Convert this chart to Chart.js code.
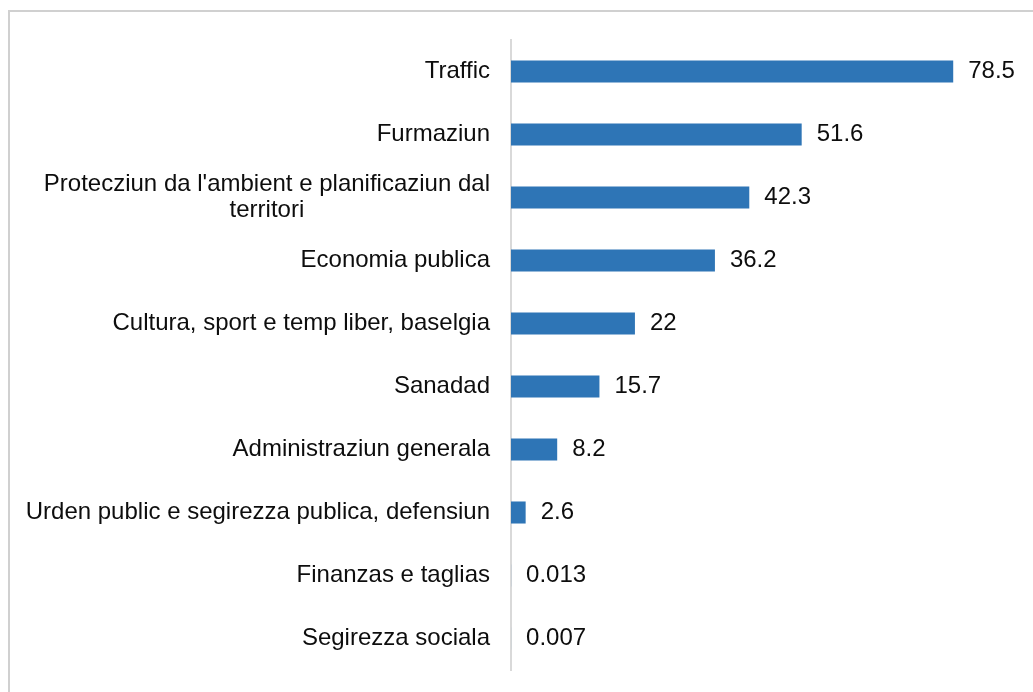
<!DOCTYPE html>
<html>
<head>
<meta charset="utf-8">
<script src="https://cdn.jsdelivr.net/npm/chart.js@4"></script>
<style>
  html, body { margin: 0; padding: 0; background: #fff; }
  #wrap { width: 1033px; height: 692px; }
</style>
</head>
<body>
<div id="wrap"><canvas id="chart" width="1033" height="692"></canvas></div>
<script>
// data
const categories = [
  ["Traffic"],
  ["Furmaziun"],
  ["Protecziun da l'ambient e planificaziun dal", "territori"],
  ["Economia publica"],
  ["Cultura, sport e temp liber, baselgia"],
  ["Sanadad"],
  ["Administraziun generala"],
  ["Urden public e segirezza publica, defensiun"],
  ["Finanzas e taglias"],
  ["Segirezza sociala"]
];
const values = [78.5, 51.6, 42.3, 36.2, 22, 15.7, 8.2, 2.6, 0.013, 0.007];

const FONT = "'Liberation Sans', Arial, sans-serif";

// outer frame
const frame = {
  id: "frame",
  beforeDraw(chart) {
    const ctx = chart.ctx;
    ctx.save();
    ctx.strokeStyle = "#d0d0d0";
    ctx.lineWidth = 2;
    ctx.strokeRect(9, 11, 1100, 1000);
    ctx.restore();
  }
};

// category labels: right aligned block, lines centred inside it
const catLabels = {
  id: "catLabels",
  afterDraw(chart) {
    const ctx = chart.ctx;
    const y = chart.scales.y;
    ctx.save();
    ctx.font = "24px " + FONT;
    ctx.fillStyle = "#0d0d0d";
    ctx.textAlign = "center";
    ctx.textBaseline = "middle";
    categories.forEach((lines, i) => {
      const cy = y.getPixelForTick(i);
      let w = 0;
      lines.forEach(l => { w = Math.max(w, ctx.measureText(l).width); });
      const cx = 490 - w / 2;
      lines.forEach((l, j) => {
        ctx.fillText(l, cx, cy + (j - (lines.length - 1) / 2) * 26);
      });
    });
    ctx.restore();
  }
};

// value labels at bar ends
const valLabels = {
  id: "valLabels",
  afterDatasetsDraw(chart) {
    const ctx = chart.ctx;
    const meta = chart.getDatasetMeta(0);
    ctx.save();
    ctx.font = "24px " + FONT;
    ctx.fillStyle = "#0d0d0d";
    ctx.textAlign = "left";
    ctx.textBaseline = "middle";
    meta.data.forEach((bar, i) => {
      ctx.fillText(String(values[i]), bar.x + 15, bar.y);
    });
    ctx.restore();
  }
};

new Chart(document.getElementById("chart"), {
  type: "bar",
  data: {
    labels: categories,
    datasets: [{
      data: values,
      backgroundColor: "#2E75B6",
      borderWidth: 0,
      barPercentage: 0.35,
      categoryPercentage: 1
    }]
  },
  options: {
    indexAxis: "y",
    responsive: false,
    animation: false,
    layout: { padding: { left: 503, right: 15, top: 40, bottom: 22 } },
    plugins: {
      legend: { display: false },
      tooltip: { enabled: false }
    },
    scales: {
      x: {
        display: false,
        min: 0,
        max: 90
      },
      y: {
        grid: { display: false },
        border: { display: true, color: "#d9d9d9", width: 2 },
        ticks: { display: false }
      }
    }
  },
  plugins: [frame, catLabels, valLabels]
});
</script>
</body>
</html>
